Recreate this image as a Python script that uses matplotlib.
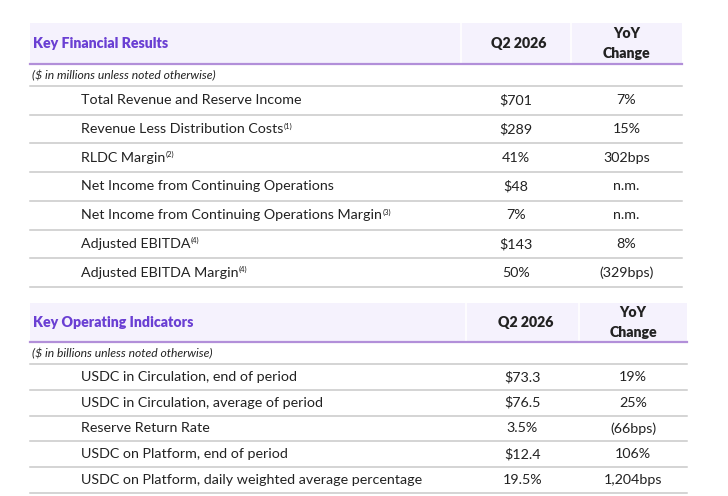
import matplotlib
matplotlib.use('Agg')
import matplotlib.pyplot as plt

plt.rcParams['font.family'] = ['Lato', 'DejaVu Sans']

# --- data -------------------------------------------------------------
fin_title = "Key Financial Results"
fin_note = "($ in millions unless noted otherwise)"
fin_labels = [
    "Total Revenue and Reserve Income",
    "Revenue Less Distribution Costs",
    "RLDC Margin",
    "Net Income from Continuing Operations",
    "Net Income from Continuing Operations Margin",
    "Adjusted EBITDA",
    "Adjusted EBITDA Margin",
]
fin_notes = [None, "(1)", "(2)", None, "(3)", "(4)", "(4)"]
fin_q2 = ["$701", "$289", "41%", "$48", "7%", "$143", "50%"]
fin_yoy = ["7%", "15%", "302bps", "n.m.", "n.m.", "8%", "(329bps)"]

ops_title = "Key Operating Indicators"
ops_note = "($ in billions unless noted otherwise)"
ops_labels = [
    "USDC in Circulation, end of period",
    "USDC in Circulation, average of period",
    "Reserve Return Rate",
    "USDC on Platform, end of period",
    "USDC on Platform, daily weighted average percentage",
]
ops_notes = [None] * 5
ops_q2 = ["$73.3", "$76.5", "3.5%", "$12.4", "19.5%"]
ops_yoy = ["19%", "25%", "(66bps)", "106%", "1,204bps"]

col_heads = ["Q2 2026", "YoY\nChange"]

PURPLE = "#6a3fd3"
HEAD_BG = "#f5f2fd"
HEAD_LINE = "#b28fd9"
ROW_LINE = "#c9c9c9"
TXT = "#222222"
FS = 10.3

fig = plt.figure(figsize=(7.28, 4.96), dpi=100)
ax = fig.add_axes([0, 0, 1, 1])
ax.set_xlim(0, 728)
ax.set_ylim(496, 0)
ax.axis('off')
renderer = fig.canvas.get_renderer()


def draw_table(top, head_h, note_h, row_h, x0, x1, sep1, sep2,
               title, note, labels, notes, q2, yoy):
    head_bot = top + head_h
    ax.fill_between([x0, x1], top, head_bot, color=HEAD_BG, lw=0)
    for s in (sep1, sep2):
        ax.plot([s, s], [top, head_bot], color="white", lw=1.2)
    ax.plot([x0, x1], [head_bot, head_bot], color=HEAD_LINE, lw=1.6)
    mid = top + head_h / 2
    ax.text(x0 + 3, mid, title, color=PURPLE, fontsize=10.2, fontweight='heavy',
            ha='left', va='center')
    c1 = (sep1 + sep2) / 2
    c2 = (sep2 + x1) / 2
    ax.text(c1 + 3, mid, col_heads[0], color=TXT, fontsize=10.2,
            fontweight='heavy', ha='center', va='center')
    ax.text(c2, mid, col_heads[1], color=TXT, fontsize=10.2, fontweight='heavy',
            ha='center', va='center', linespacing=1.55)

    note_bot = head_bot + note_h
    ax.text(x0 + 2, head_bot + note_h / 2 + 1, note, color=TXT, fontsize=8.7,
            style='italic', ha='left', va='center')
    ax.plot([x0, x1], [note_bot, note_bot], color=ROW_LINE, lw=1.1)

    for i, lab in enumerate(labels):
        y0 = note_bot + i * row_h
        yc = y0 + row_h / 2
        t = ax.text(x0 + 51, yc, lab, color=TXT, fontsize=FS,
                    ha='left', va='center')
        if notes[i]:
            bb = t.get_window_extent(renderer=renderer)
            ax.text(bb.x1 + 0.5, yc - 3, notes[i], color=TXT, fontsize=5.5,
                    ha='left', va='center')
        ax.text(c1, yc, q2[i], color=TXT, fontsize=FS, ha='center', va='center')
        ax.text(c2, yc, yoy[i], color=TXT, fontsize=FS, ha='center', va='center')
        ax.plot([x0, x1], [y0 + row_h, y0 + row_h], color=ROW_LINE, lw=1.1)


draw_table(23, 41, 22, 28.7, 30, 682, 461, 571,
           fin_title, fin_note, fin_labels, fin_notes, fin_q2, fin_yoy)
draw_table(303, 39, 22, 25.8, 30, 687, 466, 579,
           ops_title, ops_note, ops_labels, ops_notes, ops_q2, ops_yoy)

fig.savefig("out.png", dpi=100)
